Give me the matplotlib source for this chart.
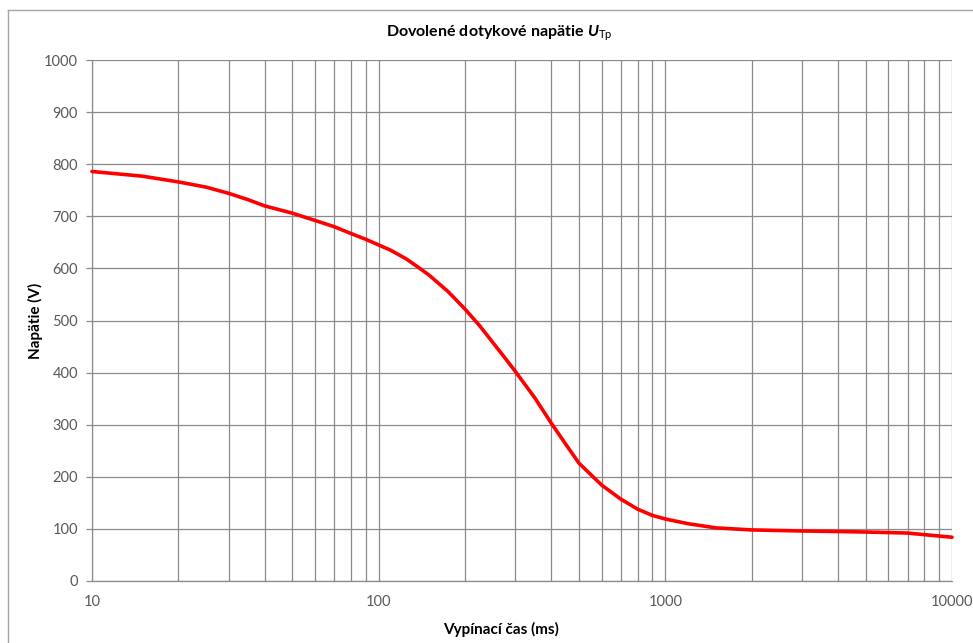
import matplotlib
matplotlib.use("Agg")
import matplotlib.pyplot as plt
from matplotlib.lines import Line2D

plt.rcParams['font.family'] = ['Lato', 'DejaVu Sans']
plt.rcParams['mathtext.fontset'] = 'custom'
plt.rcParams['mathtext.it'] = 'Lato:italic:bold'
plt.rcParams['mathtext.rm'] = 'Lato'
plt.rcParams['mathtext.bf'] = 'Lato:bold'

# Data
time_ms = [10, 15, 20, 25, 30, 35, 40, 50, 60, 70, 80, 90, 100, 110, 125, 140,
           150, 175, 200, 225, 250, 275, 300, 350, 400, 450, 500, 600, 700,
           800, 900, 1000, 1200, 1500, 2000, 3000, 4000, 5000, 6000, 7000,
           8000, 10000]
voltage_v = [786, 777, 766, 756, 744, 732, 720, 706, 692, 680, 667, 656, 645,
             635, 618, 599, 587, 555, 522, 490, 458, 429, 402, 352, 303, 262,
             226, 184, 157, 138, 126, 119, 110, 102, 98, 96, 95, 94, 93, 92,
             89, 84]
y_ticks = [0, 100, 200, 300, 400, 500, 600, 700, 800, 900, 1000]
x_ticks = [10, 100, 1000, 10000]
x_tick_labels = ['10', '100', '1000', '10000']

title_text = r"Dovolené dotykové napätie $\mathit{U}_{\mathrm{Tp}}$"
x_label = "Vypínací čas (ms)"
y_label = "Napätie (V)"

W, H = 973, 643
fig = plt.figure(figsize=(W / 100, H / 100), dpi=100)
fig.patch.set_facecolor('white')

left, right, top, bottom = 92, 952, 60, 581
ax = fig.add_axes([left / W, (H - bottom) / H, (right - left) / W, (bottom - top) / H])

grid_col = '#8a8a8a'
ax.set_xscale('log')
ax.set_xlim(10, 10000)
ax.set_ylim(0, 1000)
ax.set_yticks(y_ticks)
ax.set_xticks(x_ticks)
ax.set_xticklabels(x_tick_labels)
ax.xaxis.set_minor_formatter(matplotlib.ticker.NullFormatter())

ax.grid(True, which='major', axis='both', color=grid_col, linewidth=0.9)
ax.grid(True, which='minor', axis='x', color=grid_col, linewidth=0.9)
ax.set_axisbelow(True)

for s in ['top', 'right']:
    ax.spines[s].set_visible(False)
for s in ['left', 'bottom']:
    ax.spines[s].set_color(grid_col)
    ax.spines[s].set_linewidth(0.9)

ax.tick_params(axis='y', which='both', length=4, color=grid_col, width=0.9,
               labelsize=10.5, labelcolor='#595959', pad=6)
ax.tick_params(axis='x', which='both', length=0, labelsize=10.5,
               labelcolor='#595959', pad=10)

ax.plot(time_ms, voltage_v, color='#ff0000', linewidth=2.6,
        solid_joinstyle='round', solid_capstyle='round', clip_on=False, zorder=5)

fig.text(499 / W, 1 - 33 / H, title_text, ha='center', va='center',
         fontsize=11.5, fontweight='bold', color='black')
fig.text(501 / W, 1 - 629 / H, x_label, ha='center', va='center',
         fontsize=11, fontweight='bold', color='black')
fig.text(35 / W, 1 - 321 / H, y_label, ha='center', va='center',
         fontsize=11, fontweight='bold', color='black', rotation=90)

# chart frame
fig.add_artist(Line2D([8 / W, 1.0], [1 - 10 / H, 1 - 10 / H], color='#a6a6a6',
                      linewidth=1.0, transform=fig.transFigure))
fig.add_artist(Line2D([8 / W, 8 / W], [1 - 10 / H, 0.0], color='#a6a6a6',
                      linewidth=1.0, transform=fig.transFigure))

fig.savefig('out.png', dpi=100, facecolor='white')
